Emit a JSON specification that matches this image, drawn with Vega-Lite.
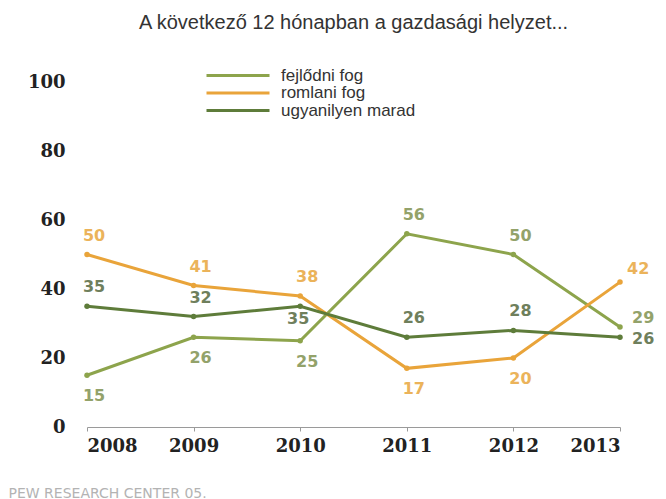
{
  "$schema": "https://vega.github.io/schema/vega-lite/v6.json",
  "width": 533,
  "height": 345,
  "autosize": {"type": "none"},
  "padding": {"left": 87, "top": 82, "right": 46, "bottom": 72},
  "background": "white",
  "title": {
    "text": "A következő 12 hónapban a gazdasági helyzet...",
    "font": "Liberation Sans",
    "fontSize": 20,
    "fontWeight": "normal",
    "color": "#333333",
    "anchor": "middle",
    "offset": 35
  },
  "config": {
    "view": {"stroke": null},
    "legend": {
      "orient": "none",
      "legendX": 118,
      "legendY": -14,
      "title": null,
      "symbolType": "stroke",
      "symbolSize": 3969,
      "symbolStrokeWidth": 3,
      "clipHeight": 15,
      "labelFont": "Liberation Sans",
      "labelFontSize": 17,
      "labelColor": "#333333",
      "labelOffset": 10,
      "rowPadding": -0.5,
      "padding": 0
    }
  },
  "data": {
    "values": [
      {"series": "fejlődni fog", "year": 2008, "value": 15},
      {"series": "fejlődni fog", "year": 2009, "value": 26},
      {"series": "fejlődni fog", "year": 2010, "value": 25},
      {"series": "fejlődni fog", "year": 2011, "value": 56},
      {"series": "fejlődni fog", "year": 2012, "value": 50},
      {"series": "fejlődni fog", "year": 2013, "value": 29},
      {"series": "romlani fog", "year": 2008, "value": 50},
      {"series": "romlani fog", "year": 2009, "value": 41},
      {"series": "romlani fog", "year": 2010, "value": 38},
      {"series": "romlani fog", "year": 2011, "value": 17},
      {"series": "romlani fog", "year": 2012, "value": 20},
      {"series": "romlani fog", "year": 2013, "value": 42},
      {"series": "ugyanilyen marad", "year": 2008, "value": 35},
      {"series": "ugyanilyen marad", "year": 2009, "value": 32},
      {"series": "ugyanilyen marad", "year": 2010, "value": 35},
      {"series": "ugyanilyen marad", "year": 2011, "value": 26},
      {"series": "ugyanilyen marad", "year": 2012, "value": 28},
      {"series": "ugyanilyen marad", "year": 2013, "value": 26}
    ]
  },
  "encoding": {
    "x": {
      "field": "year",
      "type": "quantitative",
      "scale": {"domain": [2008, 2013], "nice": false, "zero": false},
      "axis": {
        "values": [2008, 2009, 2010, 2011, 2012, 2013],
        "format": "d",
        "grid": false,
        "domainColor": "#9a9a9a",
        "tickColor": "#9a9a9a",
        "tickSize": 4,
        "labelFont": "DejaVu Serif",
        "labelFontWeight": "bold",
        "labelFontSize": 18,
        "labelColor": "#222222",
        "labelPadding": 6,
        "title": "PEW RESEARCH CENTER 05.",
        "titleFont": "DejaVu Sans",
        "titleFontSize": 14,
        "titleFontWeight": "normal",
        "titleColor": "#b3b3b3",
        "titleX": -79,
        "titleY": 66,
        "titleAlign": "left",
        "titleBaseline": "middle",
        "titleAnchor": "start"
      }
    },
    "y": {
      "field": "value",
      "type": "quantitative",
      "scale": {"domain": [0, 100], "nice": false},
      "axis": {
        "values": [0, 20, 40, 60, 80, 100],
        "grid": false,
        "domain": false,
        "ticks": false,
        "labelAlign": "right",
        "labelPadding": 22,
        "labelFont": "DejaVu Serif",
        "labelFontWeight": "bold",
        "labelFontSize": 18,
        "labelColor": "#222222",
        "title": null
      }
    }
  },
  "layer": [
    {
      "mark": {"type": "line", "strokeWidth": 3, "point": {"filled": true, "size": 30}},
      "encoding": {
        "color": {
          "field": "series",
          "type": "nominal",
          "scale": {
            "domain": ["fejlődni fog", "romlani fog", "ugyanilyen marad"],
            "range": ["#8da44c", "#e9a43a", "#5e7c3a"]
          }
        }
      }
    },
    {
      "transform": [{"filter": "(datum.series == 'romlani fog' && datum.year <= 2010) || (datum.series == 'ugyanilyen marad' && datum.year != 2010 && datum.year != 2013) || (datum.series == 'fejlődni fog' && (datum.year == 2011 || datum.year == 2012))"}],
      "mark": {"type": "text", "dy": -19, "dx": 7, "font": "DejaVu Sans", "fontWeight": "bold", "fontSize": 16, "baseline": "middle"},
      "encoding": {
        "text": {"field": "value", "type": "quantitative"},
        "color": {
          "field": "series",
          "type": "nominal",
          "legend": null,
          "scale": {
            "domain": ["fejlődni fog", "romlani fog", "ugyanilyen marad"],
            "range": ["#93a26a", "#ebb35a", "#6f7f5c"]
          }
        }
      }
    },
    {
      "transform": [{"filter": "(datum.series == 'fejlődni fog' && datum.year <= 2010) || (datum.series == 'romlani fog' && (datum.year == 2011 || datum.year == 2012))"}],
      "mark": {"type": "text", "dy": 21, "dx": 7, "font": "DejaVu Sans", "fontWeight": "bold", "fontSize": 16, "baseline": "middle"},
      "encoding": {
        "text": {"field": "value", "type": "quantitative"},
        "color": {
          "field": "series",
          "type": "nominal",
          "legend": null,
          "scale": {
            "domain": ["fejlődni fog", "romlani fog", "ugyanilyen marad"],
            "range": ["#93a26a", "#ebb35a", "#6f7f5c"]
          }
        }
      }
    },
    {
      "transform": [{"filter": "datum.series == 'ugyanilyen marad' && datum.year == 2010"}],
      "mark": {"type": "text", "dy": 13, "dx": -2, "font": "DejaVu Sans", "fontWeight": "bold", "fontSize": 16, "baseline": "middle", "color": "#6f7f5c"},
      "encoding": {
        "text": {"field": "value", "type": "quantitative"}
      }
    },
    {
      "transform": [{"filter": "datum.year == 2013 && datum.series == 'romlani fog'"}],
      "mark": {"type": "text", "align": "left", "dx": 7, "dy": -13, "font": "DejaVu Sans", "fontWeight": "bold", "fontSize": 16, "baseline": "middle", "color": "#ebb35a"},
      "encoding": {
        "text": {"field": "value", "type": "quantitative"}
      }
    },
    {
      "transform": [{"filter": "datum.year == 2013 && datum.series == 'fejlődni fog'"}],
      "mark": {"type": "text", "align": "left", "dx": 12, "dy": -9, "font": "DejaVu Sans", "fontWeight": "bold", "fontSize": 16, "baseline": "middle", "color": "#93a26a"},
      "encoding": {
        "text": {"field": "value", "type": "quantitative"}
      }
    },
    {
      "transform": [{"filter": "datum.year == 2013 && datum.series == 'ugyanilyen marad'"}],
      "mark": {"type": "text", "align": "left", "dx": 12, "dy": 2, "font": "DejaVu Sans", "fontWeight": "bold", "fontSize": 16, "baseline": "middle", "color": "#6f7f5c"},
      "encoding": {
        "text": {"field": "value", "type": "quantitative"}
      }
    }
  ],
  "resolve": {"scale": {"color": "independent"}}
}
